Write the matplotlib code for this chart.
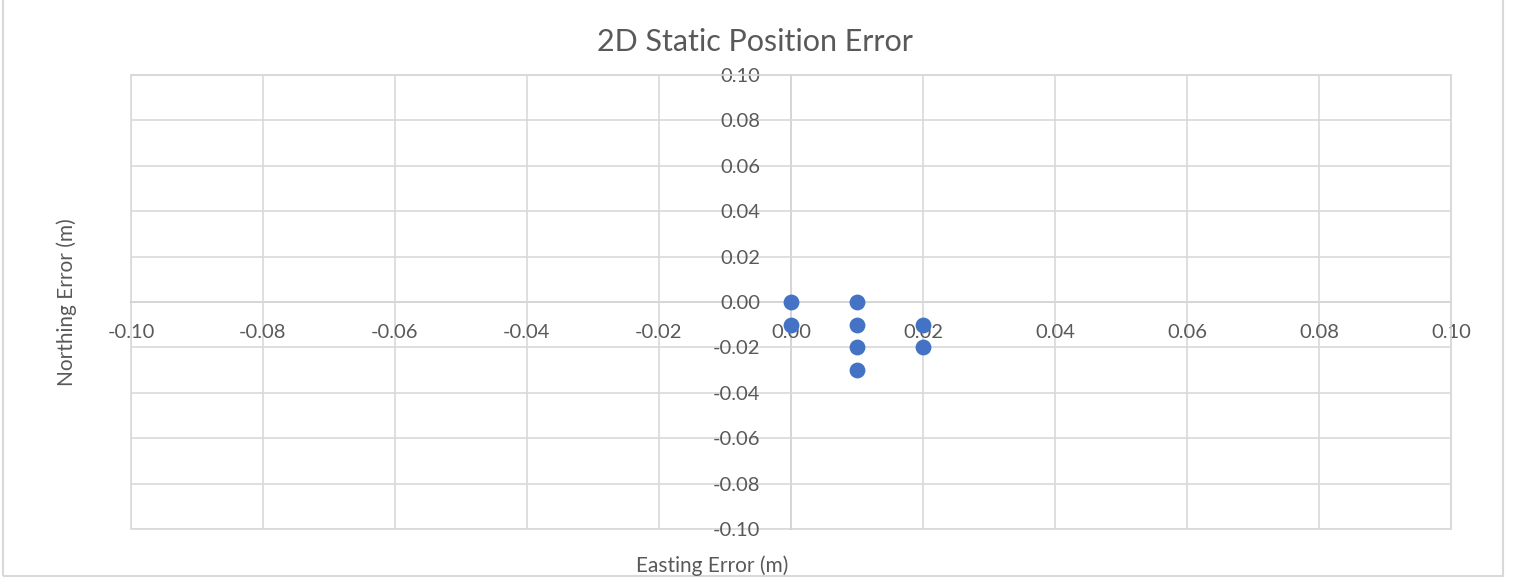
import matplotlib.pyplot as plt
from matplotlib.patches import Rectangle

# Easting / Northing errors (m)
easting = [0.00, 0.00, 0.01, 0.01, 0.01, 0.01, 0.02, 0.02]
northing = [0.00, -0.01, 0.00, -0.01, -0.02, -0.03, -0.01, -0.02]
ticks = [-0.10, -0.08, -0.06, -0.04, -0.02, 0.00, 0.02, 0.04, 0.06, 0.08, 0.10]

plt.rcParams['font.family'] = ['Lato', 'DejaVu Sans']

fig = plt.figure(figsize=(15.18, 5.78), dpi=100)
W, H = 1518, 578
ax = fig.add_axes([131 / W, 1 - 529 / H, (1451 - 131) / W, (529 - 75) / H])

ax.scatter(easting, northing, s=130, color='#4472C4', zorder=3, linewidths=0)

ax.set_xlim(-0.10, 0.10)
ax.set_ylim(-0.10, 0.10)
ax.set_xticks(ticks)
ax.set_yticks(ticks)
ax.set_xticklabels([f'{t:.2f}' for t in ticks])
ax.set_yticklabels([f'{t:.2f}' for t in ticks])
ax.grid(True, color='#D9D9D9', linewidth=1.2, zorder=0)
ax.tick_params(length=0, labelsize=14.5, colors='#595959')
ax.tick_params(axis='x', pad=16)
ax.tick_params(axis='y', pad=22)

ax.spines['left'].set_position(('data', 0))
ax.spines['bottom'].set_position(('data', 0))
for s in ['left', 'bottom']:
    ax.spines[s].set_color('#BFBFBF')
    ax.spines[s].set_linewidth(1.2)
    ax.spines[s].set_zorder(1)
for s in ['top', 'right']:
    ax.spines[s].set_color('#D9D9D9')
    ax.spines[s].set_linewidth(1.2)
ax.add_patch(Rectangle((0, 0), 1, 1, transform=ax.transAxes, fill=False,
                       edgecolor='#D9D9D9', linewidth=1.2, clip_on=False))

fig.text(755 / W, 1 - 42 / H, '2D Static Position Error', ha='center', va='center',
         fontsize=22, color='#595959')
fig.text(712 / W, 1 - 566 / H, 'Easting Error (m)', ha='center', va='center',
         fontsize=15, color='#595959')
fig.text(67 / W, 1 - 302 / H, 'Northing Error (m)', ha='center', va='center',
         rotation=90, fontsize=15, color='#595959')

# outer chart border
fig.patches.append(Rectangle((3 / W, 2 / H), (1503 - 3) / W, 1.2, transform=fig.transFigure,
                             fill=False, edgecolor='#D9D9D9', linewidth=1.5))

fig.savefig('out.png', dpi=100)
